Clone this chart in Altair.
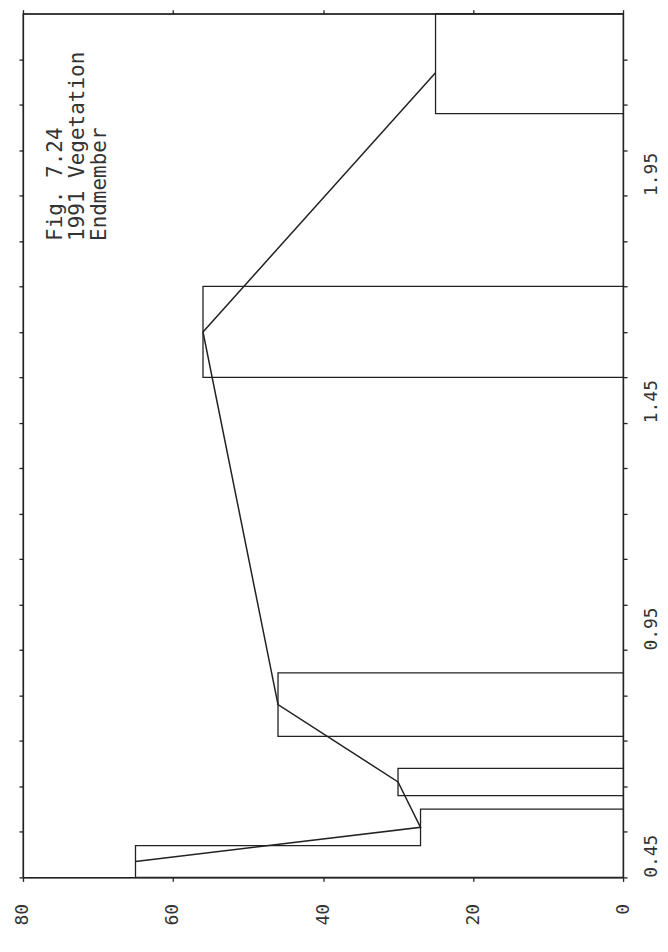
import altair as alt
import pandas as pd

# ---- data ----
band_lo = [0.45, 0.52, 0.63, 0.76, 1.55, 2.13]
band_hi = [0.52, 0.60, 0.69, 0.90, 1.75, 2.35]
reflectance = [65, 27, 30, 46, 56, 25]
line_wl = [0.485, 0.56, 0.66, 0.83, 1.65, 2.22]
line_val = [65, 27, 30, 46, 56, 25]
val_ticks = [0, 20, 40, 60, 80]
wl_ticks = [0.45, 0.55, 0.65, 0.75, 0.85, 0.95, 1.05, 1.15, 1.25, 1.35, 1.45,
            1.55, 1.65, 1.75, 1.85, 1.95, 2.05, 2.15, 2.25]
wl_labels = ["0.45", "0.95", "1.45", "1.95"]
note_lines = ["Fig. 7.24", "1991 Vegetation", "Endmember"]
note_wl = [1.85]
note_val = [77]

# outline of the band bars (union outline of contiguous bands)
rows = []
path = 0
order = 0
prev_hi = None
for lo, hi, v in zip(band_lo, band_hi, reflectance):
    if prev_hi is not None and abs(lo - prev_hi) < 1e-9:
        rows.append(dict(path=path, ord=order, wl=lo, val=v)); order += 1
        rows.append(dict(path=path, ord=order, wl=hi, val=v)); order += 1
    else:
        if prev_hi is not None:
            rows.append(dict(path=path, ord=order, wl=prev_hi, val=0)); order += 1
            path += 1
        rows.append(dict(path=path, ord=order, wl=lo, val=0)); order += 1
        rows.append(dict(path=path, ord=order, wl=lo, val=v)); order += 1
        rows.append(dict(path=path, ord=order, wl=hi, val=v)); order += 1
    prev_hi = hi
rows.append(dict(path=path, ord=order, wl=prev_hi, val=0))
outline = pd.DataFrame(rows)

spec = pd.DataFrame({"wl": line_wl, "val": line_val, "ord": list(range(len(line_wl)))})
note = pd.DataFrame({"wl": note_wl, "val": note_val, "txt": [note_lines]})

FONT = "DejaVu Sans Mono"
INK = "#222222"
LABEL_INK = "#333333"

xscale = alt.Scale(domain=[0, 80], reverse=True, nice=False)
yscale = alt.Scale(domain=[0.45, 2.35], nice=False, zero=False)

label_expr = "indexof([" + ",".join("'%s'" % s for s in wl_labels) + \
    "], format(datum.value, '.2f')) >= 0 ? format(datum.value, '.2f') : ''"

common = dict(title="", grid=False, tickSize=4, tickColor=INK, domainColor=INK,
              tickWidth=1.3, domainWidth=1.3, labelFont=FONT, labelFontSize=18,
              labelColor=LABEL_INK)

bars = alt.Chart(outline).mark_line(color=INK, strokeWidth=1.3).encode(
    x=alt.X("val:Q", scale=xscale,
            axis=alt.Axis(orient="bottom", values=val_ticks, format="d",
                          labelAngle=270, labelAlign="right", labelBaseline="middle",
                          labelPadding=22, **common)),
    y=alt.Y("wl:Q", scale=yscale,
            axis=alt.Axis(orient="right", values=wl_ticks, labelExpr=label_expr,
                          labelAngle=270, labelAlign="left", labelBaseline="top",
                          labelPadding=15, labelOverlap=False, **common)),
    detail="path:N",
    order="ord:Q",
)

line = alt.Chart(spec).mark_line(color=INK, strokeWidth=1.5).encode(
    x=alt.X("val:Q", scale=xscale,
            axis=alt.Axis(orient="top", values=val_ticks, labels=False, **common)),
    y=alt.Y("wl:Q", scale=yscale,
            axis=alt.Axis(orient="left", values=wl_ticks, labels=False, **common)),
    order="ord:Q",
)

text = alt.Chart(note).mark_text(angle=270, align="left", baseline="top", font=FONT,
                                 fontSize=21, lineHeight=22, color=LABEL_INK).encode(
    x=alt.X("val:Q", scale=xscale, axis=None),
    y=alt.Y("wl:Q", scale=yscale, axis=None),
    text="txt",
)

chart = alt.layer(bars, line, text).resolve_axis(x="independent", y="independent").properties(
    width=601, height=865,
    padding={"left": 6, "top": 0, "right": 0, "bottom": 0},
    background="white",
).configure_view(stroke=INK, strokeWidth=1.3)

chart.save("out.html", embed_options={"renderer": "svg", "actions": False})
